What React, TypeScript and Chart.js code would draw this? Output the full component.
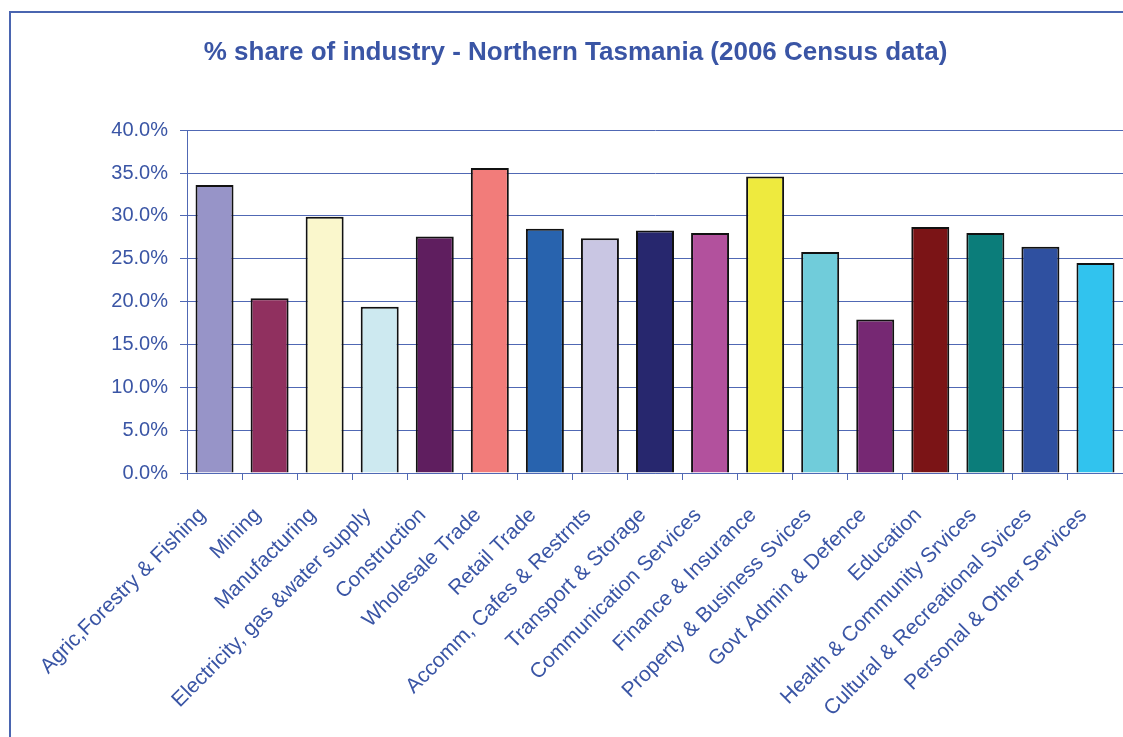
import React, { useEffect, useRef } from "react";
import { Chart, registerables } from "chart.js";

Chart.register(...registerables);

const categories = [
  "Agric,Forestry & Fishing",
  "Mining",
  "Manufacturing",
  "Electricity, gas &water supply",
  "Construction",
  "Wholesale Trade",
  "Retail Trade",
  "Accomm, Cafes & Restrnts",
  "Transport & Storage",
  "Communication Services",
  "Finance & Insurance",
  "Property & Business Svices",
  "Govt Admin & Defence",
  "Education",
  "Health & Community Srvices",
  "Cultural & Recreational Svices",
  "Personal & Other Services",
];

const shareValues = [
  33.6, 20.4, 29.9, 19.4, 27.6, 35.6, 28.5, 27.4, 28.3, 28.0, 34.6, 25.8, 17.9,
  28.7, 28.0, 26.4, 24.5,
];

const barColors = [
  "#9794C8",
  "#90305F",
  "#FAF7CC",
  "#CDE9F0",
  "#5F1E5F",
  "#F27C7A",
  "#2863AE",
  "#C9C6E3",
  "#27276E",
  "#B2519D",
  "#EEEA3E",
  "#70CCDA",
  "#762873",
  "#7B1416",
  "#0B7D7A",
  "#2F50A0",
  "#31C3EE",
];

const titleText = "% share of industry - Northern Tasmania (2006 Census data)";
const TEXT = "#3a55a5";
const GRID = "#5068b4";
const FONT = "'Liberation Sans', Arial, sans-serif";
const W = 1150;
const H = 760;

export default function App() {
  const ref = useRef<HTMLCanvasElement | null>(null);

  useEffect(() => {
    document.body.style.overflow = "hidden";
    const canvas = ref.current;
    if (!canvas) return;
    const chart = new Chart(canvas, {
      type: "bar",
      data: {
        labels: categories,
        datasets: [
          {
            data: shareValues,
            backgroundColor: barColors,
            borderColor: "#111111",
            borderWidth: 2,
            barPercentage: 0.69,
            categoryPercentage: 1,
          },
        ],
      },
      options: {
        responsive: false,
        animation: false,
        devicePixelRatio: 1,
        layout: { padding: { left: 17, right: W - 1112, top: 0, bottom: 0 } },
        plugins: {
          legend: { display: false },
          tooltip: { enabled: false },
          title: {
            display: true,
            text: titleText,
            color: TEXT,
            font: { family: FONT, size: 26, weight: "bold" },
            padding: { top: 24, bottom: 62 },
          },
        },
        scales: {
          x: {
            afterFit: (scale: any) => {
              scale.height = H - 460;
            },
            grid: {
              drawOnChartArea: false,
              drawTicks: true,
              tickLength: 7,
              color: GRID,
              offset: true,
            },
            border: { color: GRID, width: 1 },
            ticks: {
              color: TEXT,
              autoSkip: false,
              minRotation: 45,
              maxRotation: 45,
              padding: 23,
              labelOffset: -12,
              font: { family: FONT, size: 21 },
            },
          },
          y: {
            min: 0,
            max: 40,
            afterFit: (scale: any) => {
              scale.width = 159;
            },
            grid: {
              color: GRID,
              lineWidth: 1,
              drawTicks: true,
              tickLength: 7,
            },
            border: { color: GRID, width: 1 },
            ticks: {
              stepSize: 5,
              color: TEXT,
              padding: 12,
              font: { family: FONT, size: 20 },
              callback: (v: any) => Number(v).toFixed(1) + "%",
            },
          },
        },
      },
    });
    return () => chart.destroy();
  }, []);

  return (
    <div
      style={{
        position: "absolute",
        left: 9,
        top: 11,
        width: W,
        height: H,
        border: "2px solid #4a65b0",
        background: "#fff",
      }}
    >
      <canvas ref={ref} width={W} height={H} style={{ width: W, height: H, display: "block" }} />
    </div>
  );
}
